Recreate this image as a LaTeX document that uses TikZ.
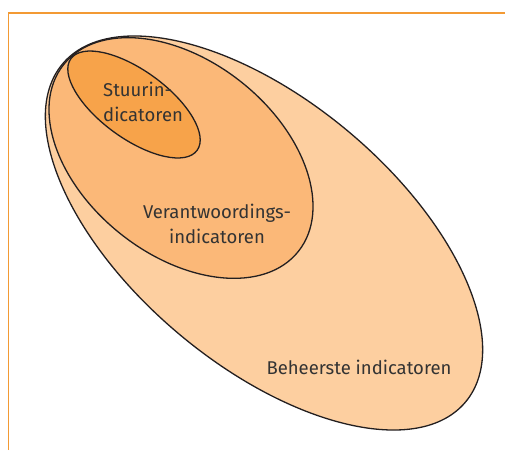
\documentclass[tikz,border=0pt]{standalone}
\usepackage{fontspec}
\setmainfont{Fira Sans}
\definecolor{frameor}{HTML}{F39A34}
\definecolor{outerfill}{HTML}{FDCFA0}
\definecolor{midfill}{HTML}{FBB878}
\definecolor{innerfill}{HTML}{F7A34A}
\definecolor{ink}{HTML}{231F20}
\definecolor{txt}{HTML}{333333}
\tikzset{
  blob/.style={draw=ink, line width=1.3pt},
  lbl/.style={text=txt, font=\fontsize{18.5}{25}\selectfont, inner sep=0pt}
}
\begin{document}
\begin{tikzpicture}[x=1pt,y=-1pt]
\useasboundingbox (0,0) rectangle (505,450);
\draw[frameor, line width=1.7pt] (8.5,450) -- (8.5,13) -- (505,13);
\coordinate (co) at (264,233);
\coordinate (cm) at (181,158);
\coordinate (ci) at (134,104.5);
\draw[blob, fill=outerfill, rotate around={-40:(co)}] (co) ellipse (263 and 132);
\draw[blob, fill=midfill, rotate around={-38.5:(cm)}] (cm) ellipse (150 and 97);
\draw[blob, fill=innerfill, rotate around={-36:(ci)}] (ci) ellipse (78 and 34);
\node[lbl, align=left, anchor=west] (stuur) at (103,102) {Stuurin-\\dicatoren};
\node[lbl, align=center] (verant) at (217,224) {Verantwoordings-\\indicatoren};
\node[lbl] (beheer) at (359,367) {Beheerste indicatoren};
\end{tikzpicture}
\end{document}
